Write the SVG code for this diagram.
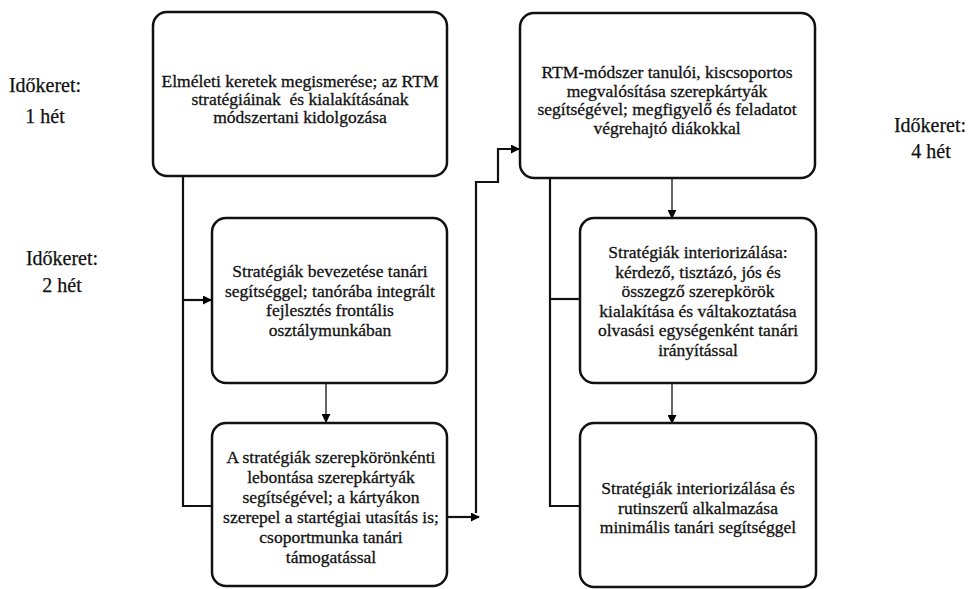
<svg xmlns="http://www.w3.org/2000/svg" width="969" height="589" viewBox="0 0 969 589">
<defs>
<marker id="ah" viewBox="0 0 10 10" refX="9" refY="5" markerWidth="9" markerHeight="9" markerUnits="userSpaceOnUse" orient="auto">
<path d="M0 0 L10 5 L0 10 Z" fill="#000"/>
</marker>
</defs>
<style>
.box{fill:#fff;stroke:#111;stroke-width:2.5}
.t{font-family:'Liberation Serif','DejaVu Serif',serif;font-size:17.5px;fill:#111;stroke:#111;stroke-width:0.3px;text-anchor:middle;white-space:pre}
.lab{font-family:'Liberation Serif','DejaVu Serif',serif;font-size:20px;fill:#111;stroke:#111;stroke-width:0.25px;text-anchor:middle}
.c{fill:none;stroke:#111;stroke-width:2.2}
.a{fill:none;stroke:#111;stroke-width:1.3}
</style>
<rect width="969" height="589" fill="#fff"/>
<g id="labels" font-family="Liberation Serif, DejaVu Serif, serif">
<text class="lab" x="45" y="92">Időkeret:</text>
<text class="lab" x="45" y="123">1 hét</text>
<text class="lab" x="62" y="265">Időkeret:</text>
<text class="lab" x="62" y="292">2 hét</text>
<text class="lab" x="930" y="132">Időkeret:</text>
<text class="lab" x="931" y="158">4 hét</text>
</g>
<g id="connectors">
<path class="c" d="M183 176 V506 H212"/>
<path class="c" d="M183 300 H211" marker-end="url(#ah)"/>
<path class="a" d="M326 383 V422" marker-end="url(#ah)"/>
<path class="c" d="M447 517 H479" marker-end="url(#ah)"/>
<path class="c" d="M476 513 V182 H498 V149 H519" marker-end="url(#ah)"/>
<path class="c" d="M550 178 V506 H580"/>
<path class="c" d="M550 299 H580"/>
<path class="a" d="M672 178 V218" marker-end="url(#ah)"/>
<path class="a" d="M672 383 V423" marker-end="url(#ah)"/>
</g>
<g id="n1" font-family="Liberation Serif, DejaVu Serif, serif">
<rect class="box" x="153" y="12" width="294" height="164" rx="14"/>
<text class="t" x="300" y="87" font-size="17">Elméleti keretek megismerése; az RTM</text>
<text class="t" x="300" y="105" font-size="17">stratégiáinak  és kialakításának</text>
<text class="t" x="300" y="123" font-size="17">módszertani kidolgozása</text>
</g>
<g id="n2" font-family="Liberation Serif, DejaVu Serif, serif">
<rect class="box" x="212" y="218" width="235" height="165" rx="14"/>
<text class="t" x="330" y="277">Stratégiák bevezetése tanári</text>
<text class="t" x="330" y="296.5">segítséggel; tanórába integrált</text>
<text class="t" x="330" y="316">fejlesztés frontális</text>
<text class="t" x="330" y="335.5">osztálymunkában</text>
</g>
<g id="n3" font-family="Liberation Serif, DejaVu Serif, serif">
<rect class="box" x="212" y="423" width="235" height="163" rx="14"/>
<text class="t" x="331" y="463">A stratégiák szerepkörönkénti</text>
<text class="t" x="331" y="483">lebontása szerepkártyák</text>
<text class="t" x="331" y="503">segítségével; a kártyákon</text>
<text class="t" x="331" y="523">szerepel a startégiai utasítás is;</text>
<text class="t" x="331" y="543">csoportmunka tanári</text>
<text class="t" x="331" y="563">támogatással</text>
</g>
<g id="n4" font-family="Liberation Serif, DejaVu Serif, serif">
<rect class="box" x="520" y="13" width="295" height="165" rx="14"/>
<text class="t" x="667" y="78">RTM-módszer tanulói, kiscsoportos</text>
<text class="t" x="667" y="96.5">megvalósítása szerepkártyák</text>
<text class="t" x="667" y="115">segítségével; megfigyelő és feladatot</text>
<text class="t" x="667" y="133.5">végrehajtó diákokkal</text>
</g>
<g id="n5" font-family="Liberation Serif, DejaVu Serif, serif">
<rect class="box" x="580" y="218" width="236" height="165" rx="14"/>
<text class="t" x="698" y="258">Stratégiák interiorizálása:</text>
<text class="t" x="698" y="277.5">kérdező, tisztázó, jós és</text>
<text class="t" x="698" y="297">összegző szerepkörök</text>
<text class="t" x="698" y="316.5">kialakítása és váltakoztatása</text>
<text class="t" x="698" y="336">olvasási egységenként tanári</text>
<text class="t" x="698" y="355.5">irányítással</text>
</g>
<g id="n6" font-family="Liberation Serif, DejaVu Serif, serif">
<rect class="box" x="580" y="423" width="236" height="164" rx="14"/>
<text class="t" x="698" y="494">Stratégiák interiorizálása és</text>
<text class="t" x="698" y="513.5">rutinszerű alkalmazása</text>
<text class="t" x="698" y="533">minimális tanári segítséggel</text>
</g>
</svg>
